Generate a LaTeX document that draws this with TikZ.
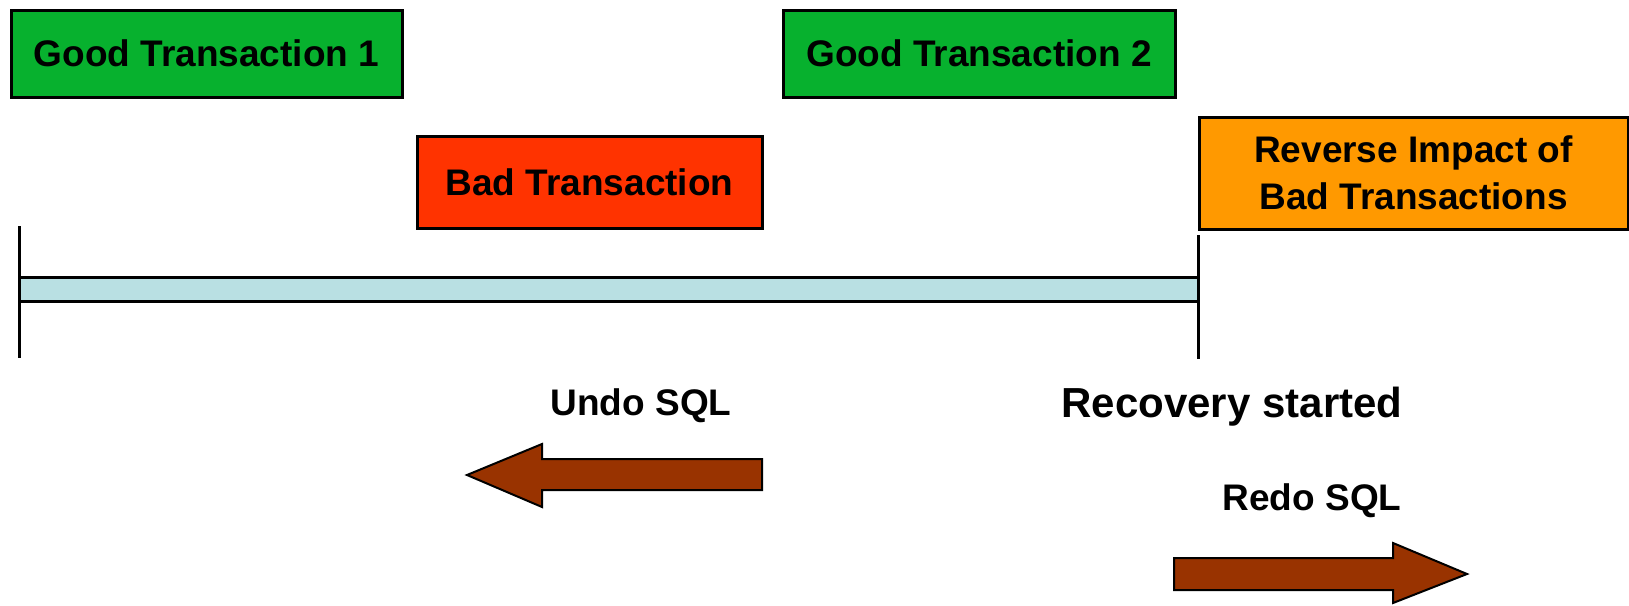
\documentclass[tikz,border=0pt]{standalone}
\usepackage{fontspec}
\setmainfont{Liberation Sans}
\definecolor{goodgreen}{HTML}{07B12E}
\definecolor{badred}{HTML}{FF3300}
\definecolor{revorange}{HTML}{FF9900}
\definecolor{barblue}{HTML}{B9E0E3}
\definecolor{arrowbrown}{HTML}{993300}
\begin{document}
\begin{tikzpicture}[x=1pt,y=-1pt,
  box/.style={draw=black,line width=3pt,inner sep=0pt,align=center,
    font=\fontsize{37}{47}\selectfont\bfseries},
  lbl/.style={anchor=base,inner sep=0pt,font=\fontsize{37}{44}\selectfont\bfseries},
  biglbl/.style={anchor=base,inner sep=0pt,font=\fontsize{42}{50}\selectfont\bfseries},
  tick/.style={draw=black,line width=3pt},
  bigarrow/.style={draw=black,line width=2pt,fill=arrowbrown,line join=miter}]
\useasboundingbox (0,0) rectangle (1629,605);
% boxes
\node[box,fill=goodgreen,minimum width=391pt,minimum height=87pt] (g1) at (206.5,53.5) {Good Transaction 1};
\node[box,fill=goodgreen,minimum width=392pt,minimum height=87pt] (g2) at (979,53.5) {Good Transaction 2};
\node[box,fill=badred,minimum width=345pt,minimum height=92pt] (bad) at (589.5,182) {Bad Transaction};
\node[box,fill=revorange,minimum width=429pt,minimum height=112pt] (rev) at (1413.5,173) {Reverse Impact of\\Bad Transactions};
% timeline bar
\node[draw=black,line width=3pt,fill=barblue,inner sep=0pt,minimum width=1179pt,minimum height=24pt] (bar) at (608.5,289) {};
\coordinate (l1) at (19,226);
\coordinate (l2) at (19,358);
\coordinate (r1) at (1198,235);
\coordinate (r2) at (1198,359);
\draw[tick] (l1) -- (l2);
\draw[tick] (r1) -- (r2);
% labels
\node[lbl] (undo) at (641,415) {Undo SQL};
\node[biglbl] (rec) at (1232,417) {Recovery started};
\node[lbl] (redo) at (1312,510) {Redo SQL};
% arrows
\draw[bigarrow] (762,459) -- (542,459) -- (542,444) -- (467,475) -- (542,507) -- (542,490) -- (762,490) -- cycle;
\draw[bigarrow] (1174,558) -- (1393,558) -- (1393,543) -- (1467,574) -- (1393,603) -- (1393,590) -- (1174,590) -- cycle;
\end{tikzpicture}
\end{document}
